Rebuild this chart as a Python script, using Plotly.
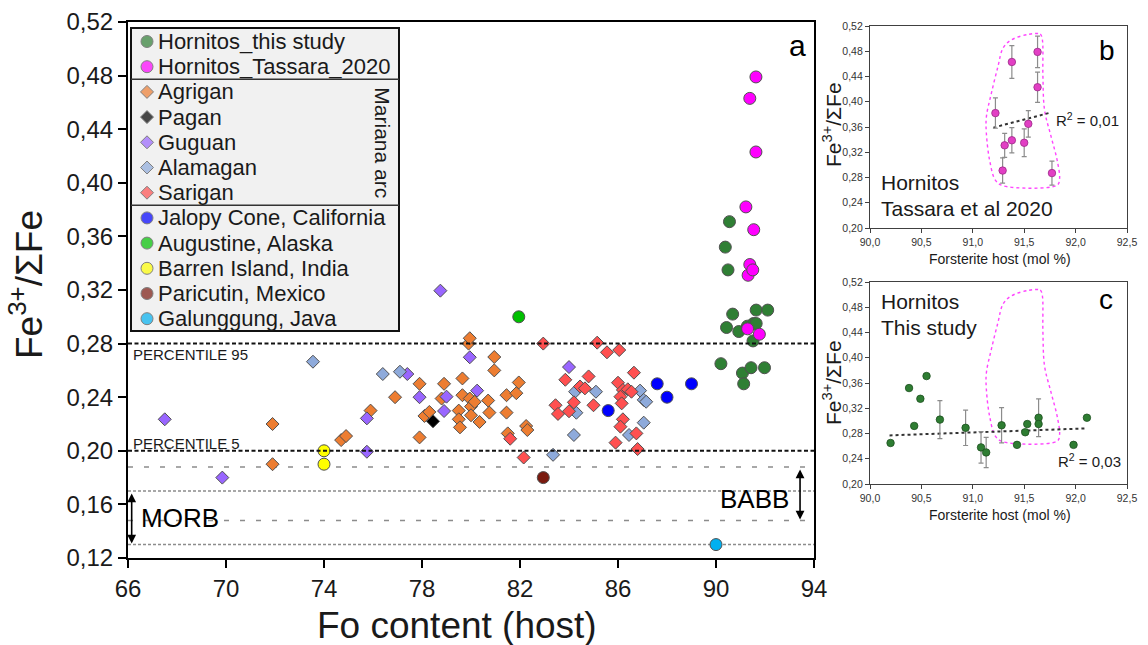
import plotly.graph_objects as go

W, H = 1148, 645
FONT = "Liberation Sans, Arial, sans-serif"

# ---------------- data ----------------
# Hornitos, this study (Fo mol %, Fe3+/SumFe, 1-sigma where measured)
hornitos_fo = [90.20, 90.38, 90.43, 90.49, 90.55, 90.68, 90.93, 91.08, 91.13,
               91.28, 91.43, 91.51, 91.53, 91.64, 91.64, 91.98, 92.11]
hornitos_fe = [0.265, 0.352, 0.292, 0.335, 0.371, 0.302, 0.289, 0.258, 0.250,
               0.293, 0.262, 0.282, 0.295, 0.305, 0.295, 0.262, 0.305]
hornitos_err = [None, None, None, None, None, 0.030, 0.028, 0.025, 0.024,
                0.028, None, None, None, 0.030, None, None, None]

# Hornitos, Tassara et al. 2020
tassara_fo = [91.22, 91.29, 91.31, 91.38, 91.38, 91.50, 91.54, 91.63, 91.63, 91.77]
tassara_fe = [0.382, 0.291, 0.331, 0.463, 0.339, 0.335, 0.365, 0.479, 0.423, 0.287]
tassara_err = [0.024, 0.020, 0.019, 0.026, 0.020, 0.022, 0.021, 0.025, 0.024, 0.019]

# outline of the Tassara et al. 2020 field
field_fo = [91.55, 91.656, 91.675, 91.682, 91.698, 91.763, 91.821, 91.844, 91.821,
            91.294, 91.219, 91.164, 91.132, 91.132, 91.180, 91.245, 91.294, 91.375, 91.55]
field_fe = [0.507, 0.507, 0.500, 0.440, 0.387, 0.344, 0.307, 0.278, 0.268,
            0.267, 0.276, 0.307, 0.350, 0.376, 0.413, 0.456, 0.485, 0.498, 0.507]

# linear trends printed in panels b and c
trend_b_fo = [91.20, 91.76]
trend_b_fe = [0.359, 0.383]
trend_c_fo = [90.19, 92.09]
trend_c_fe = [0.277, 0.288]
r2_b = "0,01"
r2_c = "0,03"

# Mariana arc
agrigan_fo = [71.9, 71.9, 74.7, 74.9, 75.9, 76.9, 77.9, 77.9, 78.1, 78.3, 78.9, 78.8,
              79.5, 79.5, 79.55, 79.65, 79.65, 79.9, 79.95, 79.95, 80.0, 80.0, 80.15,
              80.35, 80.7, 80.75, 80.95, 80.95, 81.45, 81.45, 81.5, 81.85, 81.95,
              82.25, 82.3]
agrigan_fe = [0.220, 0.190, 0.208, 0.211, 0.230, 0.240, 0.250, 0.210, 0.226, 0.229,
              0.250, 0.239, 0.230, 0.2235, 0.2175, 0.254, 0.2415, 0.280, 0.284, 0.239,
              0.233, 0.2265, 0.2365, 0.2215, 0.2375, 0.2285, 0.270, 0.260, 0.2415,
              0.2285, 0.213, 0.243, 0.251, 0.2185, 0.2155]
pagan_fo = [78.45]
pagan_fe = [0.222]
guguan_fo = [67.5, 69.85, 75.75, 75.75, 77.4, 77.9, 78.75, 78.9, 79.0, 79.95, 80.25, 84.0]
guguan_fe = [0.2235, 0.180, 0.2242, 0.1993, 0.2573, 0.240, 0.3195, 0.2297, 0.2404,
             0.2698, 0.2449, 0.2625]
alamagan_fo = [73.55, 76.4, 77.1, 83.35, 84.2, 84.25, 84.3, 85.1, 86.45, 86.9, 87.05,
               87.15, 87.05]
alamagan_fe = [0.2665, 0.2573, 0.259, 0.197, 0.2118, 0.2441, 0.2284, 0.2441, 0.2118,
               0.2449, 0.238, 0.2366, 0.221]
sarigan_fo = [81.6, 82.15, 82.95, 83.45, 83.55, 83.85, 84.0, 84.2, 84.45, 84.65, 84.8,
              85.0, 85.15, 85.55, 86.05, 86.65, 86.0, 86.2, 86.4, 86.55, 86.1, 86.15,
              86.2, 86.1, 86.75, 85.9, 86.8]
sarigan_fe = [0.209, 0.195, 0.280, 0.234, 0.2275, 0.253, 0.2295, 0.2362, 0.248, 0.2466,
              0.2555, 0.234, 0.2807, 0.2735, 0.2752, 0.2583, 0.2508, 0.2454, 0.2459,
              0.2441, 0.2404, 0.2354, 0.2235, 0.218, 0.213, 0.2061, 0.2013]

# other arcs
jalopy_fo = [85.6, 87.6, 88.0, 89.0]
jalopy_fe = [0.23, 0.25, 0.24, 0.25]
augustine_fo = [81.95]
augustine_fe = [0.30]
barren_fo = [74.0, 74.0]
barren_fe = [0.20, 0.19]
paricutin_fo = [82.95]
paricutin_fe = [0.18]
galunggung_fo = [90.0]
galunggung_fe = [0.13]

# reference levels
percentile_levels = [0.28, 0.20]
percentile_labels = ["PERCENTILE 95", "PERCENTILE 5"]
morb_range = [0.130, 0.170]
babb_range = [0.148, 0.188]

x_ticks_main = [66, 70, 74, 78, 82, 86, 90, 94]


def fx(p):
    return p / W


def fy(p):
    return 1 - p / H


series = {
    "Hornitos_this study": (hornitos_fo, hornitos_fe, "circle", "#2f7f34"),
    "Hornitos_Tassara_2020": (tassara_fo, tassara_fe, "circle", "#ff00ff"),
    "Agrigan": (agrigan_fo, agrigan_fe, "diamond", "#ed7d31"),
    "Pagan": (pagan_fo, pagan_fe, "diamond", "#000000"),
    "Guguan": (guguan_fo, guguan_fe, "diamond", "#9966ff"),
    "Alamagan": (alamagan_fo, alamagan_fe, "diamond", "#8eaadb"),
    "Sarigan": (sarigan_fo, sarigan_fe, "diamond", "#ff5050"),
    "Jalopy Cone, California": (jalopy_fo, jalopy_fe, "circle", "#0000ff"),
    "Augustine, Alaska": (augustine_fo, augustine_fe, "circle", "#00c000"),
    "Barren Island, India": (barren_fo, barren_fe, "circle", "#ffff00"),
    "Paricutin, Mexico": (paricutin_fo, paricutin_fe, "circle", "#7a1a0f"),
    "Galunggung, Java": (galunggung_fo, galunggung_fe, "circle", "#00b0f0"),
}
legend_order = list(series.keys())
draw_order = ["Agrigan", "Guguan", "Alamagan", "Sarigan", "Pagan",
              "Jalopy Cone, California", "Augustine, Alaska", "Barren Island, India",
              "Paricutin, Mexico", "Galunggung, Java",
              "Hornitos_this study", "Hornitos_Tassara_2020"]


def msize(sym):
    return 10 if sym == "diamond" else 12


fig = go.Figure()

# ---- panel a ----
for name in draw_order:
    fo, fe, sym, col = series[name]
    fig.add_trace(go.Scatter(
        x=fo, y=fe, mode="markers", name=name, xaxis="x", yaxis="y",
        marker=dict(symbol=sym, size=msize(sym), color=col,
                    line=dict(color="#505050", width=1)),
        showlegend=False))

# ---- panel b ----
fig.add_trace(go.Scatter(x=field_fo, y=field_fe, mode="lines", xaxis="x2", yaxis="y2",
                         line=dict(color="#ff44ff", width=1.4, dash="dot", shape="spline"),
                         showlegend=False, hoverinfo="skip"))
fig.add_trace(go.Scatter(x=trend_b_fo, y=trend_b_fe, mode="lines", xaxis="x2", yaxis="y2",
                         line=dict(color="#333333", width=2, dash="dot"),
                         showlegend=False, hoverinfo="skip"))
fig.add_trace(go.Scatter(
    x=tassara_fo, y=tassara_fe, mode="markers", xaxis="x2", yaxis="y2",
    error_y=dict(type="data", array=tassara_err, color="#8c8c8c", thickness=1.2, width=2.5),
    marker=dict(size=7.5, color="#e23fc4", line=dict(color="#9a2a86", width=0.8)),
    showlegend=False))

# ---- panel c ----
fig.add_trace(go.Scatter(x=field_fo, y=field_fe, mode="lines", xaxis="x3", yaxis="y3",
                         line=dict(color="#ff44ff", width=1.4, dash="dot", shape="spline"),
                         showlegend=False, hoverinfo="skip"))
fig.add_trace(go.Scatter(x=trend_c_fo, y=trend_c_fe, mode="lines", xaxis="x3", yaxis="y3",
                         line=dict(color="#333333", width=2, dash="dot"),
                         showlegend=False, hoverinfo="skip"))
fig.add_trace(go.Scatter(
    x=hornitos_fo, y=hornitos_fe, mode="markers", xaxis="x3", yaxis="y3",
    error_y=dict(type="data", array=hornitos_err, color="#8c8c8c", thickness=1.2, width=2.5),
    marker=dict(size=7.5, color="#2e7d32", line=dict(color="#1d4f20", width=0.8)),
    showlegend=False))

# ---- legend keys (pixel frame) ----
LEG_X0, LEG_X1, LEG_Y0, LEG_Y1 = 131, 399, 28, 331
ROW0, ROW_STEP = 41.5, 25.2
rows = [ROW0 + ROW_STEP * i for i in range(len(legend_order))]
fig.add_trace(go.Scatter(
    x=[147] * len(legend_order), y=rows, mode="markers", xaxis="x4", yaxis="y4",
    marker=dict(symbol=[series[n][2] for n in legend_order],
                size=[msize(series[n][2]) for n in legend_order],
                color=[series[n][3] for n in legend_order],
                line=dict(color="#505050", width=1)),
    showlegend=False, hoverinfo="skip"))

shapes = []
# legend frame and group separators
shapes.append(dict(type="rect", xref="paper", yref="paper", layer="below",
                   x0=fx(LEG_X0), x1=fx(LEG_X1), y0=fy(LEG_Y1), y1=fy(LEG_Y0),
                   fillcolor="#f1f1f1", line=dict(color="#111111", width=2)))
for i_after in (1, 6):
    ys = (rows[i_after] + rows[i_after + 1]) / 2
    shapes.append(dict(type="line", xref="paper", yref="paper", layer="below",
                       x0=fx(LEG_X0), x1=fx(LEG_X1), y0=fy(ys), y1=fy(ys),
                       line=dict(color="#333333", width=1.5)))

# percentile lines
for lv in percentile_levels:
    shapes.append(dict(type="line", xref="x", yref="y", layer="above",
                       x0=66, x1=94, y0=lv, y1=lv,
                       line=dict(color="#111111", width=2, dash="4px,2.5px")))
# MORB / BABB bounds
for lv in morb_range:
    shapes.append(dict(type="line", xref="x", yref="y", layer="below",
                       x0=66, x1=94, y0=lv, y1=lv,
                       line=dict(color="#8c8c8c", width=1.5, dash="3px,2px")))
for lv in babb_range:
    shapes.append(dict(type="line", xref="x", yref="y", layer="below",
                       x0=66, x1=94, y0=lv, y1=lv,
                       line=dict(color="#8c8c8c", width=1.5, dash="5px,11px")))


def label(px, py, text, size, xanchor="center", angle=0, color="#1a1a1a"):
    return dict(x=fx(px), y=fy(py), xref="paper", yref="paper", text=text,
                showarrow=False, xanchor=xanchor, yanchor="middle", textangle=angle,
                font=dict(size=size, color=color))


ann = []
for name, ry in zip(legend_order, rows):
    ann.append(label(156, ry, name, 22, "left"))
ann.append(label(383, (rows[2] + rows[6]) / 2, "Mariana arc", 21, angle=90))

ann.append(label(131, 354, percentile_labels[0], 15, "left"))
ann.append(label(131, 443, percentile_labels[1], 15, "left"))

# MORB / BABB ranges
for xa, rng in ((66.15, morb_range), (93.43, babb_range)):
    ann.append(dict(x=xa, y=rng[0], ax=xa, ay=rng[1], xref="x", yref="y",
                    axref="x", ayref="y", text="", showarrow=True, arrowhead=2,
                    arrowside="end+start", arrowsize=1.1, arrowwidth=1.6,
                    arrowcolor="#000000", standoff=1, startstandoff=1))
ann.append(label(139, 518, "MORB", 26, "left", color="#000000"))
ann.append(label(791, 499, "BABB", 26, "right", color="#000000"))

# panel letters
ann.append(label(797, 45, "a", 30, color="#000000"))
ann.append(label(1107, 50, "b", 28, color="#000000"))
ann.append(label(1106, 299, "c", 28, color="#000000"))

# panel captions
for txt, ry in (("Hornitos", 183), ("Tassara et al 2020", 209),
                ("Hornitos", 301), ("This study", 327)):
    ann.append(label(879, ry, txt, 21, "left"))
ann.append(label(1054, 119, "R<sup>2</sup> = " + r2_b, 15, "left"))
ann.append(label(1056, 460, "R<sup>2</sup> = " + r2_c, 15, "left"))

# axis titles
fe_title = "Fe<sup>3+</sup>/ΣFe"
ann.append(label(26, 285, fe_title, 37, angle=-90))
ann.append(label(457, 625, "Fo content (host)", 37))
for cy in (125, 383):
    ann.append(label(832, cy, fe_title, 21, angle=-90))
for cy in (259, 515):
    ann.append(label(1000, cy, "Forsterite host (mol %)", 14))

main_axis = dict(showgrid=False, zeroline=False, showline=True, linewidth=2,
                 linecolor="#000000", mirror=True, ticks="outside", ticklen=8,
                 tickwidth=2, tickcolor="#000000", automargin=False,
                 tickfont=dict(size=24, color="#1a1a1a"))
small_axis = dict(showgrid=False, zeroline=False, showline=True, linewidth=1.2,
                  linecolor="#404040", mirror=True, ticks="outside", ticklen=4,
                  tickwidth=1, tickcolor="#404040", automargin=False,
                  tickfont=dict(size=10.5, color="#333333"))
frame_axis = dict(domain=[0, 1], visible=False, fixedrange=True, automargin=False,
                  showgrid=False, zeroline=False)

fig.update_layout(
    width=W, height=H,
    margin=dict(l=0, r=0, t=0, b=0, pad=0, autoexpand=False),
    paper_bgcolor="white", plot_bgcolor="rgba(0,0,0,0)",
    showlegend=False, separators=",.",
    font=dict(family=FONT, color="#1a1a1a"),
    xaxis=dict(main_axis, domain=[fx(128), fx(814)], range=[66, 94],
               tickvals=x_ticks_main, anchor="y"),
    yaxis=dict(main_axis, domain=[fy(558), fy(22)], range=[0.12, 0.52],
               tick0=0.12, dtick=0.04, tickformat=".2f", anchor="x"),
    xaxis2=dict(small_axis, domain=[fx(870), fx(1127)], range=[90, 92.5],
                tick0=90, dtick=0.5, tickformat=".1f", anchor="y2"),
    yaxis2=dict(small_axis, domain=[fy(228), fy(26)], range=[0.20, 0.52],
                tick0=0.20, dtick=0.04, tickformat=".2f", anchor="x2"),
    xaxis3=dict(small_axis, domain=[fx(870), fx(1127)], range=[90, 92.5],
                tick0=90, dtick=0.5, tickformat=".1f", anchor="y3"),
    yaxis3=dict(small_axis, domain=[fy(484), fy(282)], range=[0.20, 0.52],
                tick0=0.20, dtick=0.04, tickformat=".2f", anchor="x3"),
    xaxis4=dict(frame_axis, range=[0, W], anchor="y4"),
    yaxis4=dict(frame_axis, range=[H, 0], anchor="x4"),
    shapes=shapes,
    annotations=ann,
)

fig.write_html("out.html")
